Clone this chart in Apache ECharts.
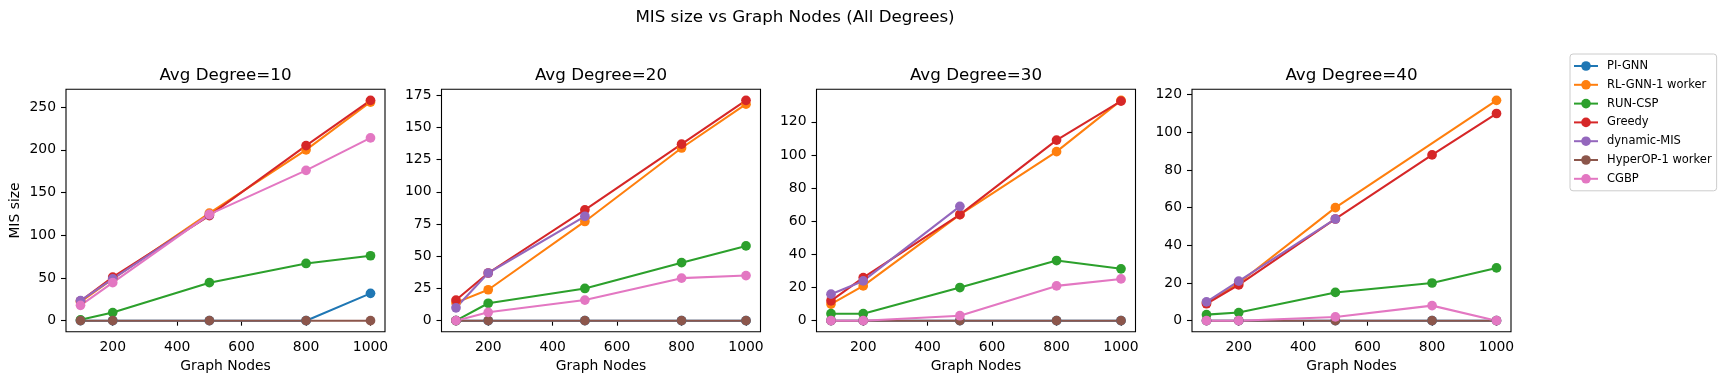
<!DOCTYPE html>
<html>
<head>
<meta charset="utf-8">
<script src="https://cdn.jsdelivr.net/npm/echarts@6/dist/echarts.min.js"></script>
<style>
  html, body { margin: 0; padding: 0; background: #fff; }
  #chart { width: 1726px; height: 384px; }
</style>
</head>
<body>
<div id="chart"></div>
<script>
// ---- data ----
const nodes = [100, 200, 500, 800, 1000];
const degrees = [10, 20, 30, 40];
const seriesNames = ['PI-GNN', 'RL-GNN-1 worker', 'RUN-CSP', 'Greedy', 'dynamic-MIS', 'HyperOP-1 worker', 'CGBP'];

const piGnn   = [[0, 0, 0, 0, 32], [0, 0, 0, 0, 0], [0, 0, 0, 0, 0], [0, 0, 0, 0, 0]];
const rlGnn   = [[22, 49, 126, 200, 256], [14, 24, 77, 134, 168], [10, 21, 64, 102, 133], [9.5, 20, 60, null, 117]];
const runCsp  = [[1, 9.5, 44.5, 67, 76], [0, 13.5, 25, 45, 58], [4.2, 4.2, 20, 36.3, 31.3], [3.2, 4.3, 15, 20, 28]];
const greedy  = [[23, 51, 123, 205, 258], [16, 37, 86, 137, 171], [12, 26, 64, 109, 132.5], [9, 19, 54, 88, 110]];
const dynMis  = [[23.5, 49, 124, null, null], [10, 37, 81, null, null], [16, 24, 69, null, null], [10, 21, 54, null, null]];
const hyperOp = [[0, 0, 0, 0, 0], [0, 0, 0, 0, 0], [0, 0, 0, 0, 0], [0, 0, 0, 0, 0]];
const cgbp    = [[18, 44.5, 124.5, 176, 214], [0, 6.5, 16, 33, 35], [0, 0, 3, 21, 25.2], [0, 0, 2, 8, 0]];

const xTicks = [200, 400, 600, 800, 1000];
const yTicks = [
  [0, 50, 100, 150, 200, 250],
  [0, 25, 50, 75, 100, 125, 150, 175],
  [0, 20, 40, 60, 80, 100, 120],
  [0, 20, 40, 60, 80, 100, 120]
];

// ---- styling / layout ----
const allSeries = [piGnn, rlGnn, runCsp, greedy, dynMis, hyperOp, cgbp];
const colors = ['#1f77b4', '#ff7f0e', '#2ca02c', '#d62728', '#9467bd', '#8c564b', '#e377c2'];
const FONT = 'DejaVu Sans';
const gridLefts = [66, 441.5, 816.5, 1192];
const gridTop = 89.3, gridW = 319, gridH = 242.4;

const xMin = nodes[0] - 0.05 * (nodes[nodes.length - 1] - nodes[0]);
const xMax = nodes[nodes.length - 1] + 0.05 * (nodes[nodes.length - 1] - nodes[0]);

function yRange(p) {
  let lo = Infinity, hi = -Infinity;
  allSeries.forEach(s => s[p].forEach(v => { if (v != null) { lo = Math.min(lo, v); hi = Math.max(hi, v); } }));
  const m = 0.05 * (hi - lo);
  return [lo - m, hi + m];
}
const plain = v => String(v);

const titles = [{
  text: 'MIS size vs Graph Nodes (All Degrees)',
  left: 795, top: 7.5, textAlign: 'center', padding: 0,
  textStyle: { fontFamily: FONT, fontSize: 16.7, fontWeight: 'normal', color: '#000', lineHeight: 20 }
}];
const grids = [], xAxes = [], yAxes = [], series = [];

degrees.forEach((d, p) => {
  titles.push({
    text: 'Avg Degree=' + d,
    left: gridLefts[p] + gridW / 2, top: 65.5, textAlign: 'center', padding: 0,
    textStyle: { fontFamily: FONT, fontSize: 16.7, fontWeight: 'normal', color: '#000', lineHeight: 20 }
  });
  grids.push({ left: gridLefts[p], top: gridTop, width: gridW, height: gridH, show: true, borderColor: '#000', borderWidth: 1.1 });
  const tickStyle = { show: true, length: 5, inside: false, lineStyle: { color: '#000', width: 1.1 } };
  xAxes.push({
    type: 'value', gridIndex: p, min: xMin, max: xMax,
    name: 'Graph Nodes', nameLocation: 'middle', nameGap: 27,
    nameTextStyle: { fontFamily: FONT, fontSize: 13.9, color: '#000' },
    axisLine: { show: false },
    axisTick: Object.assign({ customValues: xTicks }, tickStyle),
    axisLabel: { customValues: xTicks, formatter: plain, margin: 9, fontFamily: FONT, fontSize: 13.9, color: '#000' },
    splitLine: { show: false }
  });
  const yr = yRange(p);
  yAxes.push({
    type: 'value', gridIndex: p, min: yr[0], max: yr[1],
    name: p === 0 ? 'MIS size' : '', nameLocation: 'middle', nameGap: 44,
    nameTextStyle: { fontFamily: FONT, fontSize: 13.9, color: '#000' },
    axisLine: { show: false },
    axisTick: Object.assign({ customValues: yTicks[p] }, tickStyle),
    axisLabel: { customValues: yTicks[p], formatter: plain, margin: 10, fontFamily: FONT, fontSize: 13.9, color: '#000' },
    splitLine: { show: false }
  });
  allSeries.forEach((s, k) => {
    series.push({
      type: 'line', name: seriesNames[k], xAxisIndex: p, yAxisIndex: p,
      data: nodes.map((n, i) => [n, s[p][i]]).filter(pt => pt[1] != null),
      connectNulls: true,
      symbol: 'circle', symbolSize: 9.7, showAllSymbol: true,
      lineStyle: { color: colors[k], width: 2.08 },
      itemStyle: { color: colors[k] },
      emphasis: { disabled: true },
      silent: true
    });
  });
});

const chart = echarts.init(document.getElementById('chart'), null, { renderer: 'canvas' });
chart.setOption({
  animation: false,
  backgroundColor: '#fff',
  textStyle: { fontFamily: FONT },
  title: titles,
  grid: grids,
  xAxis: xAxes,
  yAxis: yAxes,
  legend: {
    data: seriesNames,
    orient: 'vertical', left: 1570, top: 54,
    padding: [5, 5, 5, 3],
    itemWidth: 24, itemHeight: 12, itemGap: 4.8,
    borderColor: '#cccccc', borderWidth: 1, borderRadius: 3,
    textStyle: { fontFamily: FONT, fontSize: 11.5, color: '#000', lineHeight: 14, padding: [0, 0, 0, 4] }
  },
  series: series
});
</script>
</body>
</html>
